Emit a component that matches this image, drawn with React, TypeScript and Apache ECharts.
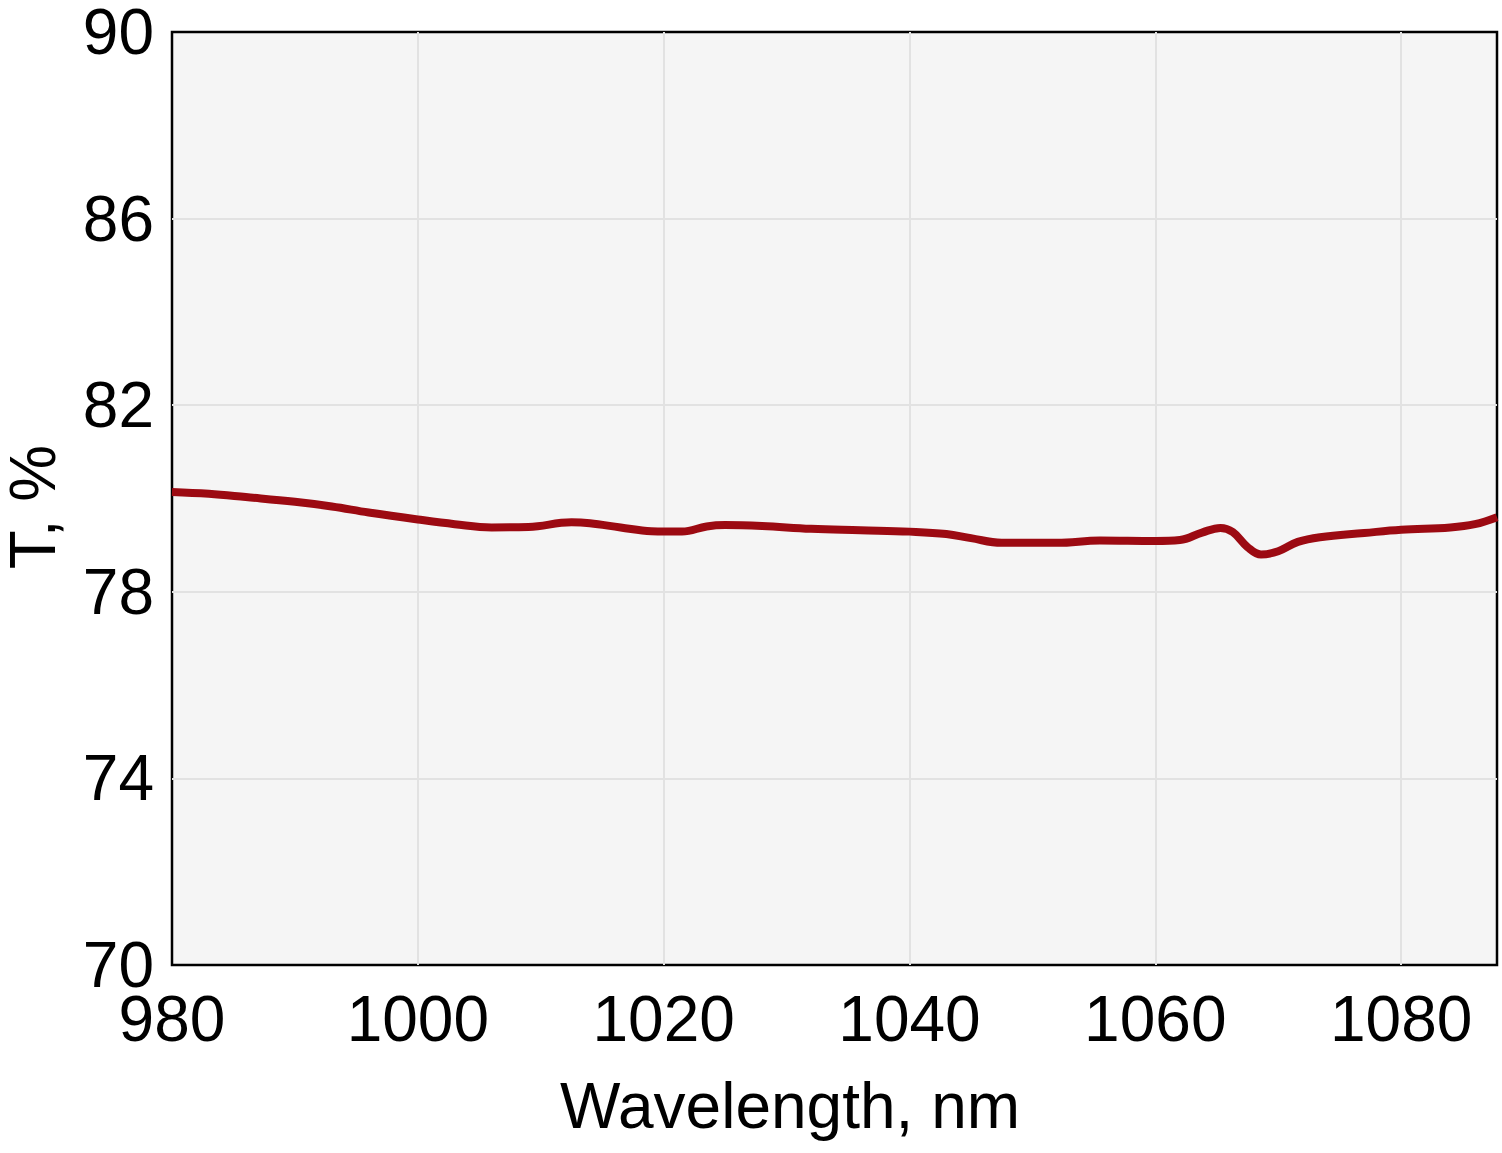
import React, { useEffect, useRef } from "react";
import * as echarts from "echarts";

const wavelengths = [
  980, 983, 986, 990, 993, 996, 1000, 1003, 1006, 1009, 1012.5, 1014, 1016.5, 1019,
  1021.5, 1023.5, 1025, 1028, 1032, 1036, 1040, 1043, 1045, 1047.5, 1052, 1055.5,
  1060, 1062, 1063.8, 1065.3, 1066.3, 1067.5, 1068.6, 1070, 1071.6, 1073.4, 1077,
  1080, 1084, 1086, 1087.8,
];
const transmission = [
  80.14, 80.1, 80.03, 79.93, 79.83, 79.7, 79.55, 79.45, 79.38, 79.39, 79.49, 79.47,
  79.38, 79.3, 79.29, 79.4, 79.43, 79.41, 79.35, 79.32, 79.29, 79.24, 79.15, 79.05,
  79.05, 79.1, 79.09, 79.11, 79.27, 79.37, 79.28, 78.96, 78.8, 78.87, 79.07, 79.17,
  79.26, 79.33, 79.38, 79.45, 79.6,
];
const xTicks = [980, 1000, 1020, 1040, 1060, 1080];
const yTickLabels = [70, 74, 78, 82, 86, 90];
const yBase = 70;

const FONT = "'Liberation Sans', Arial, sans-serif";

export default function App() {
  const ref = useRef<HTMLDivElement>(null);
  useEffect(() => {
    if (!ref.current) return;
    const chart = echarts.init(ref.current, undefined, { renderer: "svg" });
    const data = wavelengths.map((w, i) => [w, transmission[i] - yBase]);
    chart.setOption({
      animation: false,
      backgroundColor: "#ffffff",
      grid: {
        left: 172,
        top: 31,
        right: 5,
        bottom: 188,
        show: true,
        backgroundColor: "#f5f5f5",
        borderColor: "#000000",
        borderWidth: 2.5,
      },
      xAxis: {
        type: "value",
        min: 980,
        max: 1087.8,
        interval: 20,
        axisLine: { show: false },
        axisTick: { show: false },
        splitLine: {
          show: true,
          showMinLine: false,
          showMaxLine: false,
          lineStyle: { color: "#e2e2e2", width: 2 },
        },
        axisLabel: {
          fontSize: 64,
          fontFamily: FONT,
          color: "#000",
          margin: 22,
          showMaxLabel: false,
          formatter: (v: number) => (xTicks.includes(v) ? String(v) : ""),
        },
      },
      yAxis: {
        type: "value",
        min: 0,
        max: 20,
        interval: 4,
        axisLine: { show: false },
        axisTick: { show: false },
        splitLine: {
          show: true,
          showMinLine: false,
          showMaxLine: false,
          lineStyle: { color: "#e2e2e2", width: 2 },
        },
        axisLabel: {
          fontSize: 64,
          fontFamily: FONT,
          color: "#000",
          margin: 18,
          formatter: (v: number) => {
            const val = Math.round(v + yBase);
            return yTickLabels.includes(val) ? String(val) : "";
          },
        },
      },
      series: [
        {
          type: "line",
          data,
          smooth: 0.4,
          showSymbol: false,
          lineStyle: { color: "#9c0a12", width: 8 },
        },
      ],
      graphic: [
        {
          type: "text",
          x: 790,
          y: 1106,
          style: {
            text: "Wavelength, nm",
            fontSize: 64,
            fontFamily: FONT,
            fill: "#000",
            align: "center",
            verticalAlign: "middle",
          },
        },
        {
          type: "text",
          x: 33,
          y: 507,
          rotation: Math.PI / 2,
          style: {
            text: "T, %",
            fontSize: 64,
            fontFamily: FONT,
            fill: "#000",
            align: "center",
            verticalAlign: "middle",
          },
        },
      ],
    });
    return () => chart.dispose();
  }, []);
  return (
    <div
      ref={ref}
      style={{ position: "fixed", left: 0, top: 0, width: 1502, height: 1153 }}
    />
  );
}
